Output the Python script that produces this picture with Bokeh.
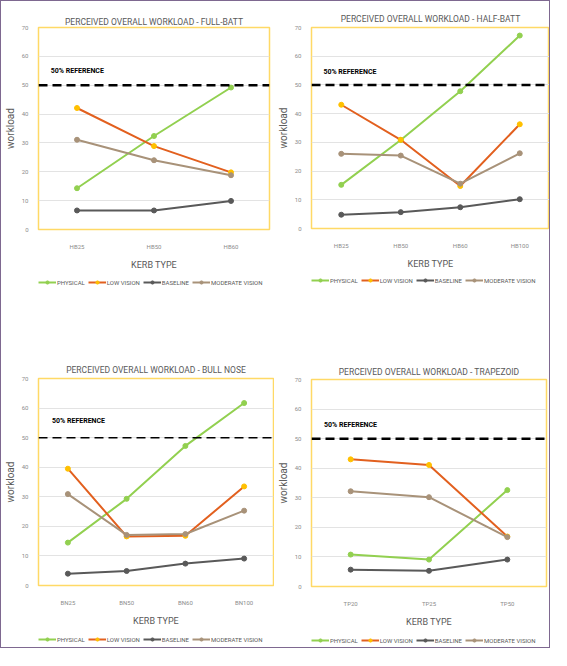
from bokeh.plotting import figure
from bokeh.models import (Range1d, FixedTicker, Span, Legend, LegendItem, ColumnDataSource)
from bokeh.layouts import column, row
from bokeh.embed import file_html
from bokeh.resources import INLINE
from bokeh.core.properties import value

# ---------------- data ----------------
y_ticks = [0, 10, 20, 30, 40, 50, 60, 70]
reference_level = 50
reference_text = "50% REFERENCE"
series_names = ["PHYSICAL", "LOW VISION", "BASELINE", "MODERATE VISION"]

full_batt_cats = ["HB25", "HB50", "HB60"]
full_batt_physical = [14.3, 32.4, 49.2]
full_batt_low_vision = [42.1, 28.9, 19.8]
full_batt_baseline = [6.6, 6.6, 9.9]
full_batt_moderate = [31.1, 24.0, 18.8]

half_batt_cats = ["HB25", "HB50", "HB60", "HB100"]
half_batt_physical = [15.2, 30.8, 47.8, 67.2]
half_batt_low_vision = [43.1, 30.9, 14.8, 36.3]
half_batt_baseline = [4.8, 5.7, 7.4, 10.2]
half_batt_moderate = [26.0, 25.4, 15.6, 26.2]

bull_nose_cats = ["BN25", "BN50", "BN60", "BN100"]
bull_nose_physical = [14.5, 29.3, 47.2, 61.7]
bull_nose_low_vision = [39.5, 16.6, 16.8, 33.5]
bull_nose_baseline = [4.0, 4.9, 7.4, 9.1]
bull_nose_moderate = [30.9, 17.1, 17.4, 25.3]

trapezoid_cats = ["TP20", "TP25", "TP50"]
trapezoid_physical = [10.8, 9.1, 32.6]
trapezoid_low_vision = [43.0, 41.1, 16.9]
trapezoid_baseline = [5.7, 5.3, 9.1]
trapezoid_moderate = [32.2, 30.2, 16.7]

# ---------------- style ----------------
FONT = "Roboto"
TEXT_GREY = "#595959"
TICK_GREY = "#8c8c8c"
line_colors = ["#92D050", "#E2601F", "#595959", "#A89279"]
marker_colors = ["#92D050", "#FFC000", "#595959", "#A89279"]


def add_series(p, n, values, visible=True):
    rends = []
    xs = list(range(n))
    for vals, lc, mc in zip(values, line_colors, marker_colors):
        src = ColumnDataSource(dict(x=xs, y=vals))
        r1 = p.line("x", "y", source=src, line_color=lc, line_width=2, visible=visible)
        r2 = p.scatter("x", "y", source=src, size=5, fill_color=mc, line_color=mc,
                       visible=visible)
        rends.append((r1, r2))
    return rends


def make_panel(title, cats, values, ref_pos, width, plot_h, legend_h, borders,
               ref_width, title_standoff, legend_loc):
    n = len(cats)
    left, right, top, bottom = borders
    p = figure(width=width, height=plot_h,
               x_range=Range1d(-0.5, n - 0.5), y_range=Range1d(0, 70),
               output_backend="svg", toolbar_location=None,
               min_border_left=left, min_border_right=right,
               min_border_top=top, min_border_bottom=bottom,
               background_fill_color="white", border_fill_color="white")
    p.title.text = title
    p.title.align = "center"
    p.title.text_font = FONT
    p.title.text_font_size = "8.5px"
    p.title.text_font_style = "normal"
    p.title.text_color = TEXT_GREY
    p.title.standoff = title_standoff
    p.outline_line_color = "#FFD966"
    p.outline_line_width = 1.5
    p.xgrid.visible = False
    p.ygrid.grid_line_color = "#E3E3E3"
    p.ygrid.grid_line_width = 1

    p.yaxis.ticker = FixedTicker(ticks=y_ticks)
    p.xaxis.ticker = FixedTicker(ticks=list(range(n)))
    p.xaxis.major_label_overrides = {i: c for i, c in enumerate(cats)}
    for ax in (p.xaxis[0], p.yaxis[0]):
        ax.axis_line_color = None
        ax.major_tick_line_color = None
        ax.minor_tick_line_color = None
        ax.major_label_text_font = FONT
        ax.major_label_text_font_size = "6px"
        ax.major_label_text_color = TICK_GREY
        ax.axis_label_text_font = FONT
        ax.axis_label_text_font_style = "normal"
        ax.axis_label_text_color = TEXT_GREY
    p.yaxis.axis_label = "workload"
    p.yaxis.axis_label_text_font_size = "10px"
    p.yaxis.major_label_standoff = 4
    p.yaxis.axis_label_standoff = 3
    p.xaxis.axis_label = "KERB TYPE"
    p.xaxis.axis_label_text_font_size = "9px"
    p.xaxis.major_label_standoff = 7
    p.xaxis.axis_label_standoff = 7

    p.add_layout(Span(location=reference_level, dimension="width", line_color="black",
                      line_width=ref_width, line_dash="9 5"))
    p.text(x=[ref_pos[0]], y=[ref_pos[1]], text=[reference_text],
           text_font=value(FONT), text_font_size="7px", text_font_style="bold",
           text_color="black", text_align="left", text_baseline="middle")
    add_series(p, n, values)

    # legend strip beneath the chart (series keys only)
    lg = figure(width=width, height=legend_h, x_range=Range1d(-0.5, n - 0.5),
                y_range=Range1d(0, 70), output_backend="svg", toolbar_location=None,
                x_axis_location=None, y_axis_location=None,
                min_border_left=0, min_border_right=0, min_border_top=0,
                min_border_bottom=0, background_fill_color="white",
                border_fill_color="white")
    lg.outline_line_color = None
    lg.grid.visible = False
    rends = add_series(lg, n, values, visible=False)
    items = [LegendItem(label=name, renderers=list(rr)) for name, rr in zip(series_names, rends)]
    leg = Legend(items=items, orientation="horizontal", location=legend_loc)
    leg.border_line_color = None
    leg.background_fill_alpha = 0
    leg.inactive_fill_alpha = 0
    leg.label_text_font = FONT
    leg.label_text_font_size = "6px"
    leg.label_text_color = TEXT_GREY
    leg.glyph_width = 18
    leg.glyph_height = 8
    leg.label_standoff = 1
    leg.spacing = 3
    leg.padding = 0
    leg.margin = 0
    leg.label_height = 8
    lg.add_layout(leg, "center")
    return column(p, lg)


c1 = make_panel("PERCEIVED OVERALL WORKLOAD - FULL-BATT", full_batt_cats,
                [full_batt_physical, full_batt_low_vision, full_batt_baseline, full_batt_moderate],
                (-0.34, 54.9), 273, 271, 49, (32, 5, 26, 36), 2.5, 2, (0, 35))
c2 = make_panel("PERCEIVED OVERALL WORKLOAD - HALF-BATT", half_batt_cats,
                [half_batt_physical, half_batt_low_vision, half_batt_baseline, half_batt_moderate],
                (-0.30, 54.5), 275, 270, 50, (32, 0, 26, 36), 2.5, 7, (0, 37))
c3 = make_panel("PERCEIVED OVERALL WORKLOAD - BULL NOSE", bull_nose_cats,
                [bull_nose_physical, bull_nose_low_vision, bull_nose_baseline, bull_nose_moderate],
                (-0.27, 55.6), 273, 307, 19, (31, 1, 57, 36), 1.5, 7, (0, 4))
c4 = make_panel("PERCEIVED OVERALL WORKLOAD - TRAPEZOID", trapezoid_cats,
                [trapezoid_physical, trapezoid_low_vision, trapezoid_baseline, trapezoid_moderate],
                (-0.34, 54.6), 275, 308, 18, (31, 3, 58, 34), 2.5, 5, (0, 3))

layout = column(row(c1, c2), row(c3, c4),
                styles={"border": "1.5px solid #7E6890"})

open("out.html", "w").write(file_html(layout, INLINE))
